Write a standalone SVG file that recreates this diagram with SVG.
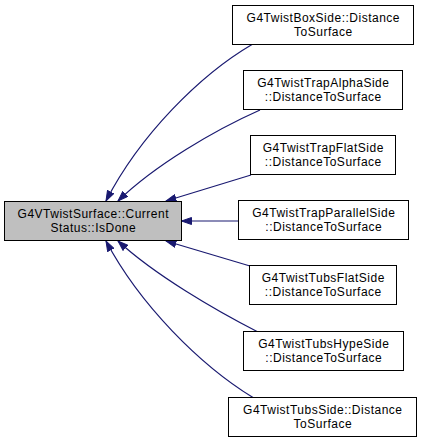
<svg xmlns="http://www.w3.org/2000/svg" width="421" height="443" viewBox="0 0 421 443">
<style>
.n rect{fill:#ffffff;stroke:#000000;stroke-width:1}
.main rect{fill:#bfbfbf}
text{font-family:"Liberation Sans",Arial,sans-serif;font-size:12px;letter-spacing:0.5px;fill:#000000;text-anchor:middle}
.e path{fill:none;stroke:#191970;stroke-width:1.2;marker-end:url(#ah)}
</style>
<defs>
<marker id="ah" markerUnits="userSpaceOnUse" markerWidth="11" markerHeight="8" viewBox="0 0 11 8" refX="10.5" refY="4" orient="auto">
<path d="M0.5,0.5 L10.5,4 L0.5,7.5 z" fill="#191970" stroke="#191970" stroke-width="1"/>
</marker>
</defs>
<rect width="421" height="443" fill="#ffffff"/>
<g class="e" id="edges">
<path d="M252,44.5 C200,75 140,135 106,201"/>
<path d="M260,110 C215,130 155,165 118,201"/>
<path d="M251,175 L166,201"/>
<path d="M238,221 L181.5,221"/>
<path d="M250,266 L166,241"/>
<path d="M258,332 C215,310 155,275 118,241"/>
<path d="M253,397.5 C200,365 140,305 106,241"/>
</g>
<g class="n main" id="node_main">
<rect x="4.5" y="201.5" width="177" height="39"/>
<text x="93.3" y="218">G4VTwistSurface::Current</text>
<text x="93.3" y="232">Status::IsDone</text>
</g>
<g class="n" id="node1">
<rect x="232.5" y="5.5" width="181" height="39"/>
<text x="323.3" y="22">G4TwistBoxSide::Distance</text>
<text x="323.3" y="36">ToSurface</text>
</g>
<g class="n" id="node2">
<rect x="243.5" y="70.5" width="159" height="39"/>
<text x="323.3" y="87">G4TwistTrapAlphaSide</text>
<text x="323.3" y="101">::DistanceToSurface</text>
</g>
<g class="n" id="node3">
<rect x="250.5" y="135.5" width="145" height="39"/>
<text x="323.3" y="152">G4TwistTrapFlatSide</text>
<text x="323.3" y="166">::DistanceToSurface</text>
</g>
<g class="n" id="node4">
<rect x="238.5" y="200.5" width="170" height="39"/>
<text x="323.8" y="217">G4TwistTrapParallelSide</text>
<text x="323.8" y="231">::DistanceToSurface</text>
</g>
<g class="n" id="node5">
<rect x="249.5" y="265.5" width="147" height="39"/>
<text x="323.3" y="282">G4TwistTubsFlatSide</text>
<text x="323.3" y="296">::DistanceToSurface</text>
</g>
<g class="n" id="node6">
<rect x="243.5" y="331.5" width="160" height="39"/>
<text x="323.8" y="348">G4TwistTubsHypeSide</text>
<text x="323.8" y="362">::DistanceToSurface</text>
</g>
<g class="n" id="node7">
<rect x="228.5" y="397.5" width="188" height="39"/>
<text x="322.8" y="414">G4TwistTubsSide::Distance</text>
<text x="322.8" y="428">ToSurface</text>
</g>
</svg>
